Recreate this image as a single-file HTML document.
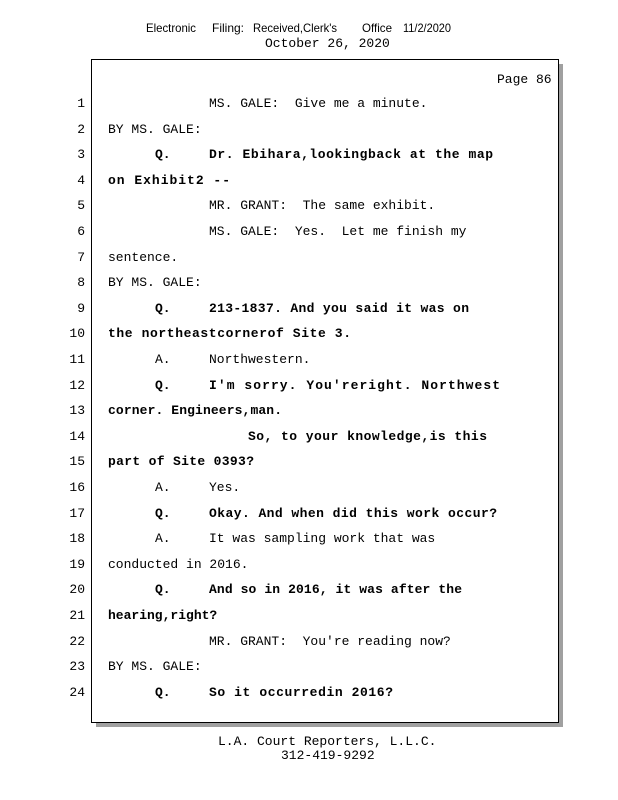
<!DOCTYPE html>
<html><head><meta charset="utf-8"><style>
html,body{margin:0;padding:0;background:#fff;width:618px;height:800px;overflow:hidden}
svg{display:block}
text{font-family:"Liberation Mono",monospace;font-size:13px;fill:#000}
.b{font-weight:bold}
.n{text-anchor:end}
.h{font-family:"Liberation Sans",sans-serif;font-size:12px;fill:#000}
</style></head><body>
<svg width="618" height="800" viewBox="0 0 618 800">
<text class="h" x="146" y="32" textLength="50" lengthAdjust="spacingAndGlyphs">Electronic</text>
<text class="h" x="212" y="32">Filing:</text>
<text class="h" x="253" y="32" textLength="84" lengthAdjust="spacingAndGlyphs">Received,Clerk's</text>
<text class="h" x="362" y="32" textLength="30" lengthAdjust="spacingAndGlyphs">Office</text>
<text class="h" x="403" y="32" textLength="48" lengthAdjust="spacingAndGlyphs">11/2/2020</text>
<text x="265" y="47">October 26, 2020</text>
<rect x="96" y="64" width="467" height="663" fill="#a0a0a0"/>
<rect x="91.5" y="59.5" width="467" height="663" fill="#fff" stroke="#000" stroke-width="1"/>
<text x="497" y="83">Page 86</text>
<g class="n">
<text class="n" x="85" y="107">1</text><text class="n" x="85" y="133">2</text><text class="n" x="85" y="158">3</text><text class="n" x="85" y="184">4</text><text class="n" x="85" y="209">5</text><text class="n" x="85" y="235">6</text><text class="n" x="85" y="261">7</text><text class="n" x="85" y="286">8</text><text class="n" x="85" y="312">9</text><text class="n" x="85" y="337">10</text><text class="n" x="85" y="363">11</text><text class="n" x="85" y="389">12</text><text class="n" x="85" y="414">13</text><text class="n" x="85" y="440">14</text><text class="n" x="85" y="465">15</text><text class="n" x="85" y="491">16</text><text class="n" x="85" y="517">17</text><text class="n" x="85" y="542">18</text><text class="n" x="85" y="568">19</text><text class="n" x="85" y="593">20</text><text class="n" x="85" y="619">21</text><text class="n" x="85" y="645">22</text><text class="n" x="85" y="670">23</text><text class="n" x="85" y="696">24</text>
</g>
<text x="209" y="107" xml:space="preserve">MS. GALE:  Give me a minute.</text>
<text x="108" y="133">BY MS. GALE:</text>
<text class="b" x="155" y="158">Q.</text>
<text class="b" x="209" y="158" textLength="284" lengthAdjust="spacing">Dr. Ebihara,lookingback at the map</text>
<text class="b" x="108" y="184" textLength="122" lengthAdjust="spacing">on Exhibit2 --</text>
<text x="209" y="209" xml:space="preserve">MR. GRANT:  The same exhibit.</text>
<text x="209" y="235" xml:space="preserve">MS. GALE:  Yes.  Let me finish my</text>
<text x="108" y="261">sentence.</text>
<text x="108" y="286">BY MS. GALE:</text>
<text class="b" x="155" y="312">Q.</text>
<text class="b" x="209" y="312" textLength="260" lengthAdjust="spacing">213-1837. And you said it was on</text>
<text class="b" x="108" y="337" textLength="243" lengthAdjust="spacing">the northeastcornerof Site 3.</text>
<text x="155" y="363">A.</text>
<text x="209" y="363">Northwestern.</text>
<text class="b" x="155" y="389">Q.</text>
<text class="b" x="209" y="389" textLength="291" lengthAdjust="spacing">I'm sorry. You'reright. Northwest</text>
<text class="b" x="108" y="414" textLength="174" lengthAdjust="spacing">corner. Engineers,man.</text>
<text class="b" x="248" y="440" textLength="239" lengthAdjust="spacing">So, to your knowledge,is this</text>
<text class="b" x="108" y="465" textLength="146" lengthAdjust="spacing">part of Site 0393?</text>
<text x="155" y="491">A.</text>
<text x="209" y="491">Yes.</text>
<text class="b" x="155" y="517">Q.</text>
<text class="b" x="209" y="517" textLength="288" lengthAdjust="spacing">Okay. And when did this work occur?</text>
<text x="155" y="542">A.</text>
<text x="209" y="542">It was sampling work that was</text>
<text x="108" y="568">conducted in 2016.</text>
<text class="b" x="155" y="593">Q.</text>
<text class="b" x="209" y="593" textLength="253" lengthAdjust="spacing">And so in 2016, it was after the</text>
<text class="b" x="108" y="619">hearing,right?</text>
<text x="209" y="645" xml:space="preserve">MR. GRANT:  You're reading now?</text>
<text x="108" y="670">BY MS. GALE:</text>
<text class="b" x="155" y="696">Q.</text>
<text class="b" x="209" y="696" textLength="184" lengthAdjust="spacing">So it occurredin 2016?</text>
<text x="218" y="745">L.A. Court Reporters, L.L.C.</text>
<text x="281" y="759">312-419-9292</text>
</svg>
</body></html>
